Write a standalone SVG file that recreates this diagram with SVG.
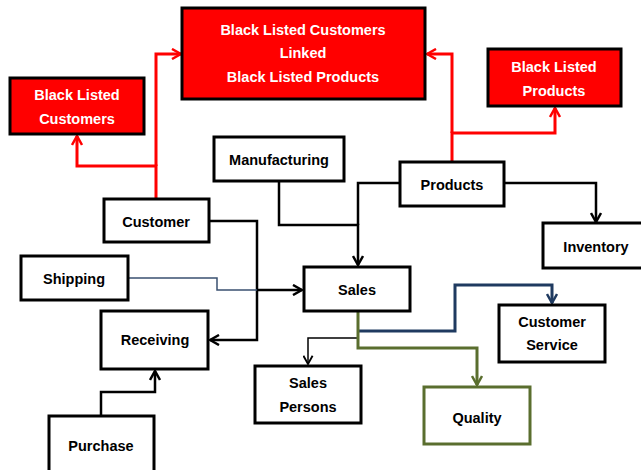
<svg xmlns="http://www.w3.org/2000/svg" width="641" height="470" viewBox="0 0 641 470">
<defs>
<style>
.box{fill:#fff;stroke:#000;stroke-width:3}
.red{fill:#ff0000;stroke:#000;stroke-width:3}
.qbox{fill:#fff;stroke:#5a6e2e;stroke-width:3}
text{font-family:"Liberation Sans",Arial,sans-serif;font-weight:bold;font-size:14.5px;text-anchor:middle}
.w{fill:#fff}
.c{fill:none;stroke-linejoin:miter}
.cr{stroke:#ff0000;stroke-width:3}
.cb{stroke:#000;stroke-width:2.5}
.cbt{stroke:#000;stroke-width:1.5}
.cn{stroke:#1f3a60;stroke-width:3}
.cs{stroke:#3a5070;stroke-width:1.5}
.cg{stroke:#5a6e2e;stroke-width:3}
</style>
<marker id="ar" viewBox="0 0 12 12" refX="11" refY="6" markerWidth="12" markerHeight="12" markerUnits="userSpaceOnUse" orient="auto"><path d="M2,1 L11,6 L2,11" fill="none" stroke="#ff0000" stroke-width="2.5"/></marker>
<marker id="ab" viewBox="0 0 12 12" refX="11" refY="6" markerWidth="12" markerHeight="12" markerUnits="userSpaceOnUse" orient="auto"><path d="M2,1 L11,6 L2,11" fill="none" stroke="#000" stroke-width="2.5"/></marker>
<marker id="abt" viewBox="0 0 12 12" refX="11" refY="6" markerWidth="11" markerHeight="11" markerUnits="userSpaceOnUse" orient="auto"><path d="M2,1 L11,6 L2,11" fill="none" stroke="#000" stroke-width="2"/></marker>
<marker id="an" viewBox="0 0 12 12" refX="11" refY="6" markerWidth="12" markerHeight="12" markerUnits="userSpaceOnUse" orient="auto"><path d="M2,1 L11,6 L2,11" fill="none" stroke="#1f3a60" stroke-width="2.5"/></marker>
<marker id="ag" viewBox="0 0 12 12" refX="11" refY="6" markerWidth="12" markerHeight="12" markerUnits="userSpaceOnUse" orient="auto"><path d="M2,1 L11,6 L2,11" fill="none" stroke="#5a6e2e" stroke-width="2.5"/></marker>
</defs>
<rect width="641" height="470" fill="#fff"/>
<g id="connectors">
<path class="c cr" d="M156,199 V166 H77 V136" marker-end="url(#ar)"/>
<path class="c cr" d="M156,166 V54 H181" marker-end="url(#ar)"/>
<path class="c cr" d="M452,162 V133 H555 V108" marker-end="url(#ar)"/>
<path class="c cr" d="M452,133 V54 H427" marker-end="url(#ar)"/>
<path class="c cb" d="M209,221 H257 V340 H210" marker-end="url(#ab)"/>
<path class="c cs" d="M128,278 H217 V290 H257"/>
<path class="c cb" d="M257,290 H302" marker-end="url(#ab)"/>
<path class="c cb" d="M279,181 V225 H358 V265" marker-end="url(#ab)"/>
<path class="c cb" d="M400,183 H358 V225"/>
<path class="c cb" d="M504,183 H596 V222" marker-end="url(#ab)"/>
<path class="c cbt" d="M358,338 H308 V364" marker-end="url(#abt)"/>
<path class="c cn" d="M358,331 H455 V285 H552 V303" marker-end="url(#an)"/>
<path class="c cg" d="M358,311 V348 H477 V385" marker-end="url(#ag)"/>
<path class="c cb" d="M101,416 V392 H155 V371" marker-end="url(#ab)"/>
</g>
<g id="blcl">
<rect class="red" x="182" y="8" width="243" height="91"/>
<text class="w" x="303" y="35">Black Listed Customers</text>
<text class="w" x="303" y="58">Linked</text>
<text class="w" x="303" y="82">Black Listed Products</text>
</g>
<g id="blc">
<rect class="red" x="10" y="78" width="134" height="56"/>
<text class="w" x="77" y="100">Black Listed</text>
<text class="w" x="77" y="124">Customers</text>
</g>
<g id="blp">
<rect class="red" x="488" y="49" width="133" height="57"/>
<text class="w" x="554" y="72">Black Listed</text>
<text class="w" x="554" y="96">Products</text>
</g>
<g id="manufacturing">
<rect class="box" x="214" y="137" width="130" height="44"/>
<text x="279" y="165">Manufacturing</text>
</g>
<g id="customer">
<rect class="box" x="104" y="199" width="105" height="43"/>
<text x="156" y="227">Customer</text>
</g>
<g id="products">
<rect class="box" x="400" y="162" width="104" height="44"/>
<text x="452" y="190">Products</text>
</g>
<g id="inventory">
<rect class="box" x="543" y="223" width="100" height="45"/>
<text x="596" y="252">Inventory</text>
</g>
<g id="shipping">
<rect class="box" x="21" y="256" width="107" height="44"/>
<text x="74" y="284">Shipping</text>
</g>
<g id="sales">
<rect class="box" x="304" y="267" width="106" height="44"/>
<text x="357" y="295">Sales</text>
</g>
<g id="receiving">
<rect class="box" x="101" y="311" width="107" height="58"/>
<text x="155" y="345">Receiving</text>
</g>
<g id="customerservice">
<rect class="box" x="499" y="305" width="106" height="57"/>
<text x="552" y="327">Customer</text>
<text x="552" y="350">Service</text>
</g>
<g id="salespersons">
<rect class="box" x="255" y="366" width="106" height="57"/>
<text x="308" y="388">Sales</text>
<text x="308" y="412">Persons</text>
</g>
<g id="quality">
<rect class="qbox" x="424" y="387" width="106" height="57"/>
<text x="477" y="423">Quality</text>
</g>
<g id="purchase">
<rect class="box" x="49" y="416" width="105" height="60"/>
<text x="101" y="451">Purchase</text>
</g>
</svg>
